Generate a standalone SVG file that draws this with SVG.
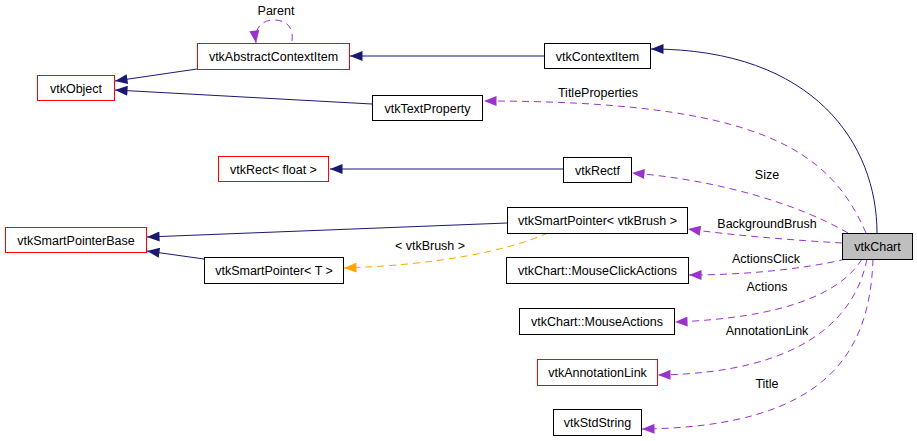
<svg xmlns="http://www.w3.org/2000/svg" width="917" height="441" viewBox="0 0 917 441">
<defs>
<style>
text{font-family:"Liberation Sans",Arial,sans-serif;font-size:12.5px;fill:#000;text-anchor:middle}
.n rect{fill:#fff;stroke:#000;stroke-width:1}
.n.r rect{stroke:#ff0000}
.n.g rect{fill:#bfbfbf}
.inh{fill:none;stroke:#191970;stroke-width:1}
.use{fill:none;stroke:#9a32cd;stroke-width:1;stroke-dasharray:7,5}
.tpl{fill:none;stroke:#ffa500;stroke-width:1;stroke-dasharray:7,5}
</style>
<marker id="aN" viewBox="0 0 10 8" refX="10" refY="4" markerWidth="13" markerHeight="10" markerUnits="userSpaceOnUse" orient="auto"><path d="M0,0L10,4L0,8z" fill="#191970"/></marker>
<marker id="aP" viewBox="0 0 10 8" refX="10" refY="4" markerWidth="13" markerHeight="10" markerUnits="userSpaceOnUse" orient="auto"><path d="M0,0L10,4L0,8z" fill="#9a32cd"/></marker>
<marker id="aO" viewBox="0 0 10 8" refX="10" refY="4" markerWidth="13" markerHeight="10" markerUnits="userSpaceOnUse" orient="auto"><path d="M0,0L10,4L0,8z" fill="#ffa500"/></marker>
</defs>
<rect width="917" height="441" fill="#fff"/>
<g id="connectors">
<path class="inh" d="M197,69L115,81" marker-end="url(#aN)"/>
<path class="inh" d="M372,104L115,90" marker-end="url(#aN)"/>
<path class="inh" d="M544,56L350,56" marker-end="url(#aN)"/>
<path class="inh" d="M877,233C877,145 815,49 651,49" marker-end="url(#aN)"/>
<path class="inh" d="M563,169L330,169" marker-end="url(#aN)"/>
<path class="inh" d="M507,223L147,237" marker-end="url(#aN)"/>
<path class="inh" d="M204,259L147,251" marker-end="url(#aN)"/>
<path class="use" d="M292,41C294,25 284,20 274,20C262,20 254,28 256,43" marker-end="url(#aP)"/>
<path class="use" d="M866,233C830,150 760,101 484,101" marker-end="url(#aP)"/>
<path class="use" d="M848,233C800,205 720,180 632,173" marker-end="url(#aP)"/>
<path class="use" d="M842,243C790,240 730,235 688,229" marker-end="url(#aP)"/>
<path class="use" d="M846,259C800,270 740,275 689,275" marker-end="url(#aP)"/>
<path class="use" d="M862,259C840,295 780,318 675,322" marker-end="url(#aP)"/>
<path class="use" d="M867,259C855,320 800,373 658,375" marker-end="url(#aP)"/>
<path class="use" d="M873,259C870,350 830,427 642,429" marker-end="url(#aP)"/>
<path class="tpl" d="M548,233C510,250 440,265 344,268" marker-end="url(#aO)"/>
<text x="276" y="15">Parent</text>
<text x="598" y="97">TitleProperties</text>
<text x="767" y="179">Size</text>
<text x="767" y="228">BackgroundBrush</text>
<text x="766" y="263">ActionsClick</text>
<text x="767" y="291">Actions</text>
<text x="767" y="335">AnnotationLink</text>
<text x="767" y="388">Title</text>
<text x="430" y="250">&lt; vtkBrush &gt;</text>
</g>
<g id="vtkAbstractContextItem" class="n r"><rect x="197.5" y="43.5" width="152" height="26"/><text x="273.5" y="61">vtkAbstractContextItem</text></g>
<g id="vtkObject" class="n r"><rect x="37.5" y="75.5" width="77" height="25"/><text x="76" y="92.5">vtkObject</text></g>
<g id="vtkTextProperty" class="n"><rect x="372.5" y="95.5" width="110" height="25"/><text x="427.5" y="112.5">vtkTextProperty</text></g>
<g id="vtkContextItem" class="n"><rect x="544.5" y="43.5" width="106" height="25"/><text x="597.5" y="60.5">vtkContextItem</text></g>
<g id="vtkRectFloat" class="n r"><rect x="218.5" y="156.5" width="110" height="25"/><text x="273.5" y="173.5">vtkRect&lt; float &gt;</text></g>
<g id="vtkRectf" class="n"><rect x="563.5" y="157.5" width="68" height="25"/><text x="597.5" y="174.5">vtkRectf</text></g>
<g id="vtkSmartPointerBase" class="n r"><rect x="5.5" y="227.5" width="141" height="25"/><text x="76" y="244.5">vtkSmartPointerBase</text></g>
<g id="vtkSmartPointerT" class="n"><rect x="204.5" y="257.5" width="139" height="26"/><text x="274" y="275">vtkSmartPointer&lt; T &gt;</text></g>
<g id="vtkSmartPointerBrush" class="n"><rect x="507.5" y="207.5" width="180" height="26"/><text x="597.5" y="225">vtkSmartPointer&lt; vtkBrush &gt;</text></g>
<g id="vtkChart" class="n g"><rect x="842.5" y="233.5" width="70" height="26"/><text x="877.5" y="251">vtkChart</text></g>
<g id="vtkChartMouseClickActions" class="n"><rect x="506.5" y="257.5" width="182" height="26"/><text x="597.5" y="275">vtkChart::MouseClickActions</text></g>
<g id="vtkChartMouseActions" class="n"><rect x="519.5" y="308.5" width="155" height="26"/><text x="597" y="326">vtkChart::MouseActions</text></g>
<g id="vtkAnnotationLink" class="n r"><rect x="537.5" y="359.5" width="120" height="26"/><text x="597.5" y="377">vtkAnnotationLink</text></g>
<g id="vtkStdString" class="n"><rect x="553.5" y="409.5" width="88" height="26"/><text x="597.5" y="427">vtkStdString</text></g>
</svg>
